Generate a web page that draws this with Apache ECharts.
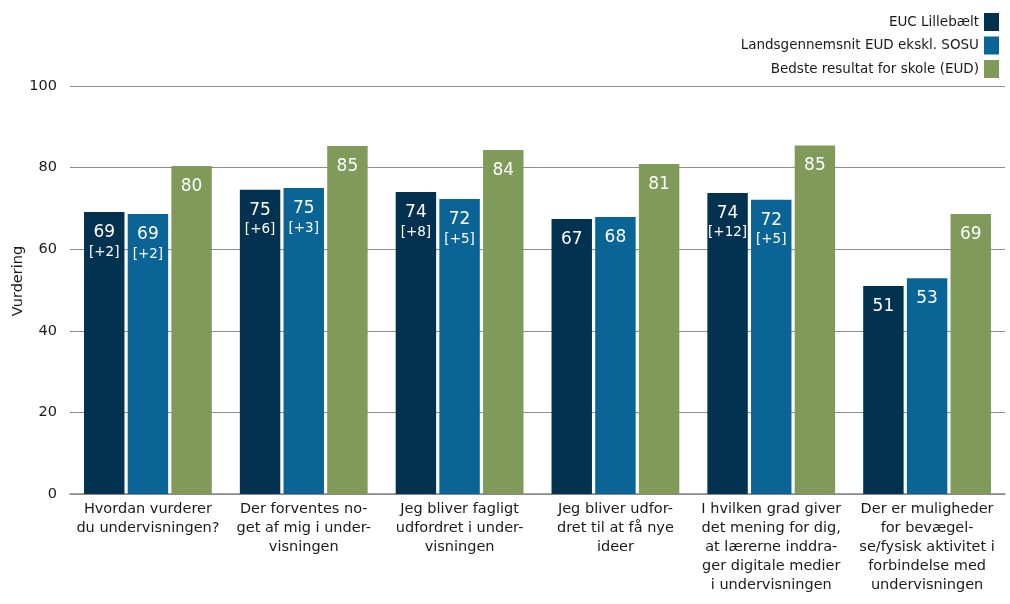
<!DOCTYPE html>
<html><head><meta charset="utf-8">
<script src="https://cdn.jsdelivr.net/npm/echarts@6/dist/echarts.min.js"></script>
<style>html,body{margin:0;padding:0;background:#fff}#c{width:1010px;height:604px}</style>
</head><body><div id="c"></div>
<script>
const categories = [
  "Hvordan vurderer\ndu undervisningen?",
  "Der forventes no-\nget af mig i under-\nvisningen",
  "Jeg bliver fagligt\nudfordret i under-\nvisningen",
  "Jeg bliver udfor-\ndret til at få nye\nideer",
  "I hvilken grad giver\ndet mening for dig,\nat lærerne inddra-\nger digitale medier\ni undervisningen",
  "Der er muligheder\nfor bevægel-\nse/fysisk aktivitet i\nforbindelse med\nundervisningen"
];
const seriesNames = ["EUC Lillebælt", "Landsgennemsnit EUD ekskl. SOSU", "Bedste resultat for skole (EUD)"];
const eucValues = [69.1, 74.6, 74.0, 67.4, 73.8, 51.0];
const landsValues = [68.6, 75.0, 72.3, 67.9, 72.1, 52.9];
const bestValues = [80.4, 85.3, 84.3, 80.9, 85.4, 68.6];
const eucDiff = ["+2", "+6", "+8", null, "+12", null];
const landsDiff = ["+2", "+3", "+5", null, "+5", null];
const bestDiff = [null, null, null, null, null, null];
const yTicks = [0, 20, 40, 60, 80, 100];
const colors = ["#02324f", "#0a6496", "#7f9a59"];

const FONT = "DejaVu Sans";
function mkSeries(name, vals, diffs, color) {
  return {
    name, type: "bar", data: vals,
    itemStyle: { color },
    barGap: "8%", barCategoryGap: "18%",
    label: {
      show: true, position: "insideTop", distance: 10,
      formatter: p => {
        const d = diffs[p.dataIndex];
        return "{v|" + Math.round(p.value) + "}" + (d ? "\n{d|[" + d + "]}" : "");
      },
      rich: {
        v: { color: "#fff", fontSize: 17, fontFamily: FONT, lineHeight: 21 },
        d: { color: "#fff", fontSize: 13.5, fontFamily: FONT, lineHeight: 18 }
      }
    }
  };
}
const chart = echarts.init(document.getElementById("c"), null, { renderer: "canvas" });
chart.setOption({
  animation: false,
  textStyle: { fontFamily: FONT },
  legend: {
    orient: "vertical", right: 6, top: 8, align: "right",
    itemWidth: 15, itemHeight: 18, itemGap: 5.5,
    icon: "rect",
    textStyle: { fontSize: 13.5, color: "#1a1a1a", fontFamily: FONT },
    data: seriesNames
  },
  grid: { left: 70, right: 5, top: 86, bottom: 110, containLabel: false, outerBoundsMode: "none" },
  xAxis: {
    type: "category", data: categories,
    axisLine: { lineStyle: { color: "#888", width: 1.5 } },
    axisTick: { show: false },
    axisLabel: { interval: 0, color: "#1a1a1a", fontSize: 14.5, lineHeight: 19, margin: 6, fontFamily: FONT }
  },
  yAxis: {
    type: "value", min: 0, max: 100, interval: 20,
    name: "Vurdering", nameLocation: "middle", nameGap: 44, nameRotate: 90, nameMoveOverlap: false,
    nameTextStyle: { fontSize: 14.5, color: "#1a1a1a", fontFamily: FONT, padding: [0, 0, 0, 18] },
    axisLine: { show: false }, axisTick: { show: false },
    axisLabel: { color: "#1a1a1a", fontSize: 14.5, margin: 13, fontFamily: FONT,
      formatter: v => yTicks.includes(v) ? String(v) : "" },
    splitLine: { lineStyle: { color: "#8c8c8c", width: 1 } }
  },
  series: [
    mkSeries(seriesNames[0], eucValues, eucDiff, colors[0]),
    mkSeries(seriesNames[1], landsValues, landsDiff, colors[1]),
    mkSeries(seriesNames[2], bestValues, bestDiff, colors[2])
  ]
});
</script></body></html>
